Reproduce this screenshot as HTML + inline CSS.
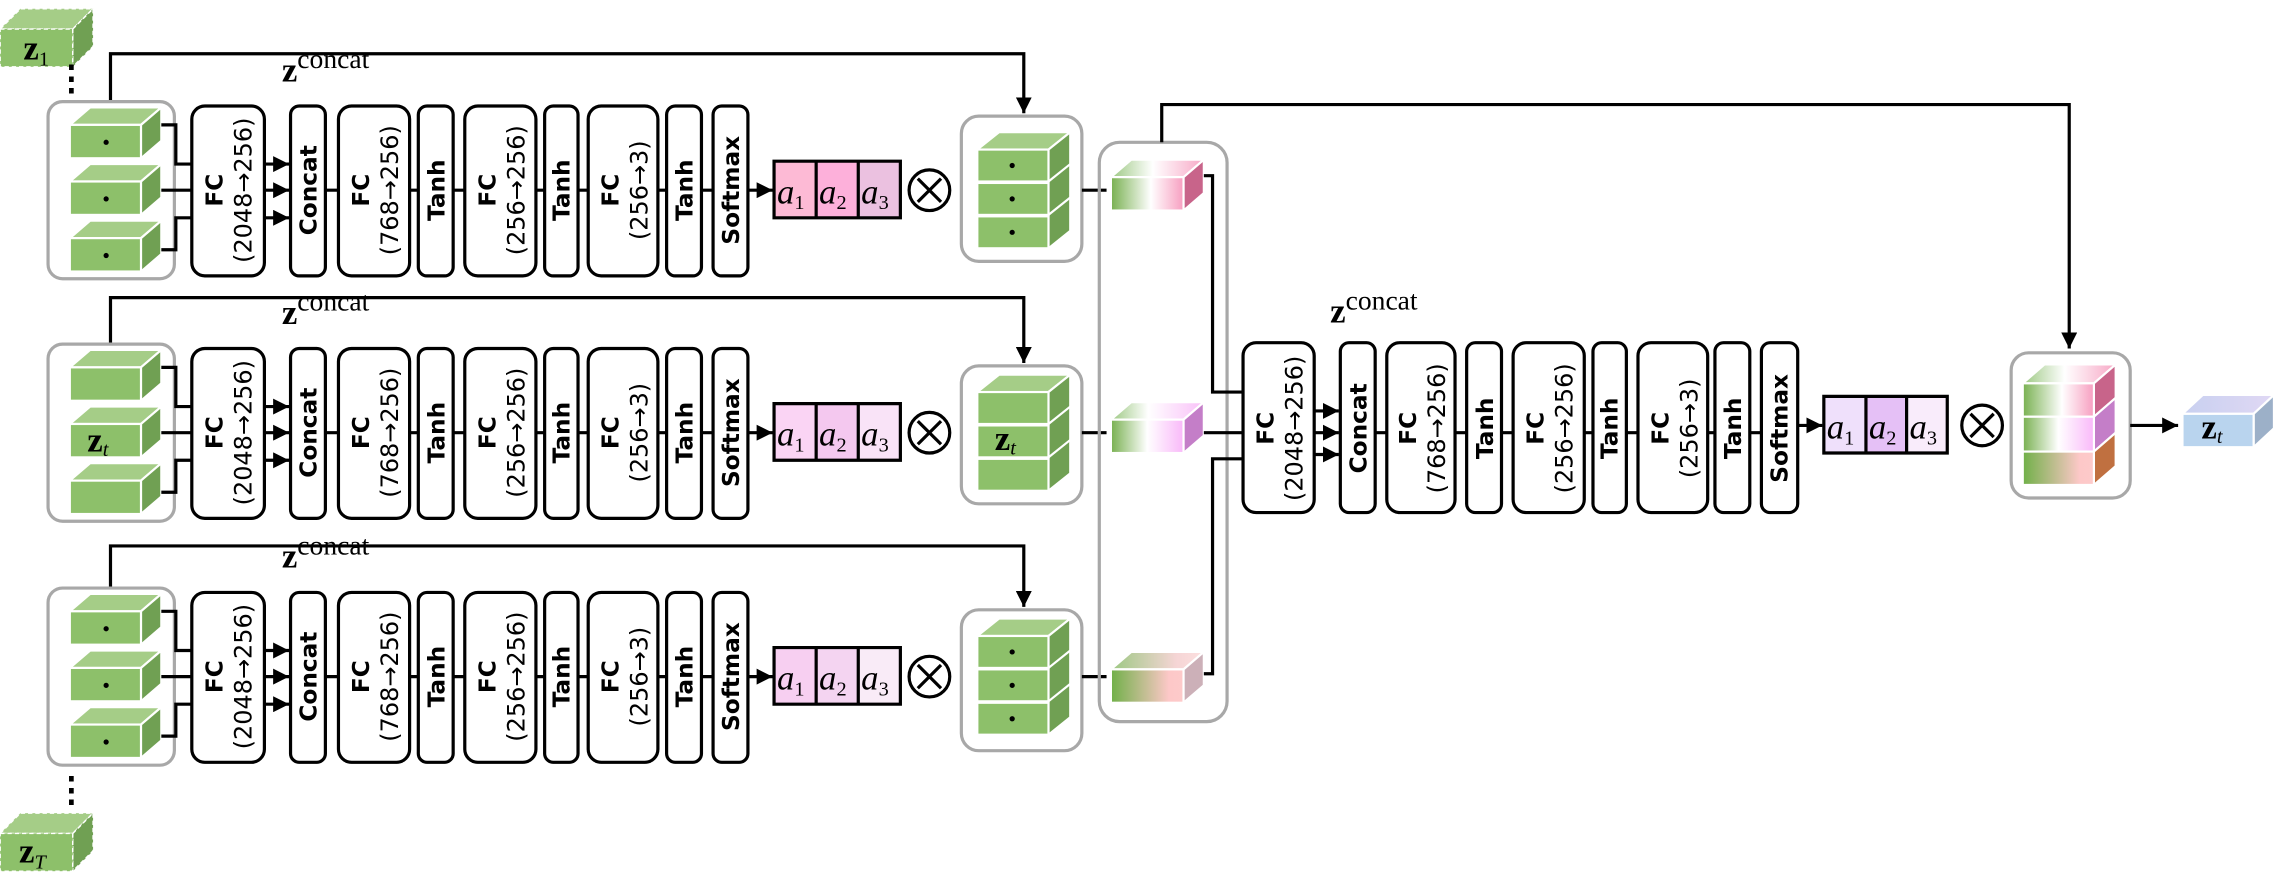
<!DOCTYPE html>
<html><head><meta charset="utf-8"><style>
html,body{margin:0;padding:0;background:#fff;}
svg{display:block;}
.b{fill:#fff;stroke:#000;stroke-width:2.2;}
.l{stroke:#000;stroke-width:2.2;fill:none;}
.g{fill:none;stroke:#a8a8a8;stroke-width:2.2;}
.t{font-family:"DejaVu Sans","Liberation Sans",sans-serif;font-weight:bold;font-size:16px;}
.p{font-family:"DejaVu Sans","Liberation Sans",sans-serif;font-size:16.5px;}
.m{font-family:"Liberation Serif",serif;font-style:italic;font-size:24px;}
.s{font-family:"Liberation Serif",serif;font-size:14px;}
.z{font-family:"Liberation Serif",serif;font-weight:bold;font-size:24px;}
.c{font-family:"Liberation Serif",serif;font-size:19px;font-weight:normal;}
.f{fill:#8dc06a;stroke:#fff;stroke-width:1.5;}
.tp{fill:#a5cd87;stroke:#fff;stroke-width:1.5;}
.sd{fill:#70a053;stroke:#fff;stroke-width:1.5;}
</style></head><body>
<svg width="2277" height="877" viewBox="0 0 1568 604" xmlns="http://www.w3.org/2000/svg">
<defs>
<marker id="ar" viewBox="0 0 10 10" refX="10" refY="5" markerWidth="5" markerHeight="5" orient="auto"><path d="M0,0 L10,5 L0,10z" fill="#000"/></marker>
<linearGradient id="gp" x1="0" x2="1"><stop offset="0" stop-color="#78b050"/><stop offset="0.55" stop-color="#fff"/><stop offset="1" stop-color="#f79ec0"/></linearGradient>
<linearGradient id="gpt" x1="0" x2="1"><stop offset="0" stop-color="#9cc882"/><stop offset="0.45" stop-color="#fff"/><stop offset="1" stop-color="#f7a8c6"/></linearGradient>
<linearGradient id="gv" x1="0" x2="1"><stop offset="0" stop-color="#78b050"/><stop offset="0.5" stop-color="#fff"/><stop offset="1" stop-color="#f9b8f9"/></linearGradient>
<linearGradient id="gvt" x1="0" x2="1"><stop offset="0" stop-color="#9cc882"/><stop offset="0.4" stop-color="#fff"/><stop offset="1" stop-color="#f9c0f8"/></linearGradient>
<linearGradient id="gb" x1="0" x2="1"><stop offset="0" stop-color="#70b048"/><stop offset="0.8" stop-color="#fdc8c8"/><stop offset="1" stop-color="#fdcaca"/></linearGradient>
<linearGradient id="gbt" x1="0" x2="1"><stop offset="0" stop-color="#9cc882"/><stop offset="0.7" stop-color="#f5d5d5"/><stop offset="1" stop-color="#fde0e0"/></linearGradient>
<linearGradient id="zt" x1="0" x2="1"><stop offset="0" stop-color="#c8d0f0"/><stop offset="1" stop-color="#e0d8f4"/></linearGradient>
</defs>

<!-- z1 cube -->
<polygon points="0,20 14,6 64,6 50,20" fill="#a5cd87" stroke="#fff" stroke-dasharray="3,2"/>
<polygon points="50,20 64,6 64,32 50,46" fill="#70a053" stroke="#fff" stroke-dasharray="3,2"/>
<rect x="0" y="20" width="50" height="26" fill="#8dc06a" stroke="#fff" stroke-dasharray="3,2"/>
<text x="16" y="41" class="z" font-size="20">z<tspan class="s" font-weight="normal" dy="4">1</tspan></text>
<text x="37" y="62" class="z" font-size="16">⋮</text>
<!-- zT cube -->
<polygon points="0,574 14,560 64,560 50,574" fill="#a5cd87" stroke="#fff" stroke-dasharray="3,2"/>
<polygon points="50,574 64,560 64,586 50,600" fill="#70a053" stroke="#fff" stroke-dasharray="3,2"/>
<rect x="0" y="574" width="50" height="26" fill="#8dc06a" stroke="#fff" stroke-dasharray="3,2"/>
<text x="13" y="594" class="z" font-size="20">z<tspan class="s" font-weight="normal" font-style="italic" dy="4">T</tspan></text>
<text x="37" y="552" class="z" font-size="16">⋮</text>

<!-- ROW 1 -->
<g>
<path class="l" d="M76,70 V37 H705 V78" marker-end="url(#ar)"/>
<text x="194" y="56" class="z">z<tspan class="c" dy="-9">concat</tspan></text>
<rect class="g" x="33" y="70" width="87" height="122" rx="10"/>
<polygon class="tp" points="48,86 62,74 111,74 97,86"/><polygon class="sd" points="97,86 111,74 111,97 97,109"/><rect class="f" x="48" y="86" width="49" height="23"/><circle cx="73" cy="98" r="1.8"/>
<polygon class="tp" points="48,125 62,113 111,113 97,125"/><polygon class="sd" points="97,125 111,113 111,136 97,148"/><rect class="f" x="48" y="125" width="49" height="23"/><circle cx="73" cy="137" r="1.8"/>
<polygon class="tp" points="48,164 62,152 111,152 97,164"/><polygon class="sd" points="97,164 111,152 111,175 97,187"/><rect class="f" x="48" y="164" width="49" height="23"/><circle cx="73" cy="176" r="1.8"/>
<path class="l" d="M111,86 H121 V113 H132 M111,131 H132 M111,172 H121 V150 H132"/>
<path class="l" d="M182,113 H199" marker-end="url(#ar)"/><path class="l" d="M182,131 H199" marker-end="url(#ar)"/><path class="l" d="M182,150 H199" marker-end="url(#ar)"/>
<path class="l" d="M224,131 H233 M282,131 H288 M312,131 H320 M369,131 H375 M398,131 H405 M453,131 H459 M483,131 H491"/>
<path class="l" d="M515,131 H532" marker-end="url(#ar)"/>
<rect class="b" x="132" y="73" width="50" height="117" rx="9"/>
<text class="t" transform="translate(153,131) rotate(-90)" text-anchor="middle">FC</text>
<text class="p" transform="translate(173,131) rotate(-90)" text-anchor="middle">(2048→256)</text>
<rect class="b" x="200" y="73" width="24" height="117" rx="6"/>
<text class="t" transform="translate(218,131) rotate(-90)" text-anchor="middle">Concat</text>
<rect class="b" x="233" y="73" width="49" height="117" rx="9"/>
<text class="t" transform="translate(254,131) rotate(-90)" text-anchor="middle">FC</text>
<text class="p" transform="translate(274,131) rotate(-90)" text-anchor="middle">(768→256)</text>
<rect class="b" x="288" y="73" width="24" height="117" rx="6"/>
<text class="t" transform="translate(306,131) rotate(-90)" text-anchor="middle">Tanh</text>
<rect class="b" x="320" y="73" width="49" height="117" rx="9"/>
<text class="t" transform="translate(341,131) rotate(-90)" text-anchor="middle">FC</text>
<text class="p" transform="translate(361,131) rotate(-90)" text-anchor="middle">(256→256)</text>
<rect class="b" x="375" y="73" width="23" height="117" rx="6"/>
<text class="t" transform="translate(392,131) rotate(-90)" text-anchor="middle">Tanh</text>
<rect class="b" x="405" y="73" width="48" height="117" rx="9"/>
<text class="t" transform="translate(426,131) rotate(-90)" text-anchor="middle">FC</text>
<text class="p" transform="translate(446,131) rotate(-90)" text-anchor="middle">(256→3)</text>
<rect class="b" x="459" y="73" width="24" height="117" rx="6"/>
<text class="t" transform="translate(477,131) rotate(-90)" text-anchor="middle">Tanh</text>
<rect class="b" x="491" y="73" width="24" height="117" rx="6"/>
<text class="t" transform="translate(509,131) rotate(-90)" text-anchor="middle">Softmax</text>
<rect x="533" y="111" width="29" height="39" fill="#fdbad5"/><rect x="562" y="111" width="29" height="39" fill="#fdb0da"/><rect x="591" y="111" width="29" height="39" fill="#ebc1e0"/>
<path class="l" d="M533,111 H620 V150 H533 Z M562,111 V150 M591,111 V150"/>
<text class="m" x="535" y="140">a<tspan class="s" font-style="normal" font-size="16" dy="4">1</tspan></text>
<text class="m" x="564" y="140">a<tspan class="s" font-style="normal" font-size="16" dy="4">2</tspan></text>
<text class="m" x="593" y="140">a<tspan class="s" font-style="normal" font-size="16" dy="4">3</tspan></text>
<circle cx="640" cy="131" r="14" class="l"/><path class="l" d="M632,123 L648,139 M648,123 L632,139" stroke-width="1.8"/>
<rect class="g" x="662" y="80" width="83" height="100" rx="12"/>
<polygon class="tp" points="673,103 688,91 737,91 722,103"/>
<polygon class="sd" points="722,103 737,91 737,159 722,171"/>
<rect class="f" x="673" y="103" width="49" height="22"/><rect class="f" x="673" y="126" width="49" height="22"/><rect class="f" x="673" y="149" width="49" height="22"/>
<path d="M722,125 L737,113 M722,148 L737,136" stroke="#fff" stroke-width="1.5"/>
<circle cx="697" cy="114" r="1.8"/><circle cx="697" cy="137" r="1.8"/><circle cx="697" cy="160" r="1.8"/>
<path class="l" d="M745,131 H762"/>
</g>

<!-- ROW 2 -->
<g transform="translate(0,167)">
<path class="l" d="M76,70 V38 H705 V83" marker-end="url(#ar)"/>
<text x="194" y="56" class="z">z<tspan class="c" dy="-9">concat</tspan></text>
<rect class="g" x="33" y="70" width="87" height="122" rx="10"/>
<polygon class="tp" points="48,86 62,74 111,74 97,86"/><polygon class="sd" points="97,86 111,74 111,97 97,109"/><rect class="f" x="48" y="86" width="49" height="23"/>
<polygon class="tp" points="48,125 62,113 111,113 97,125"/><polygon class="sd" points="97,125 111,113 111,136 97,148"/><rect class="f" x="48" y="125" width="49" height="23"/><text x="60" y="144" class="z" font-size="19">z<tspan class="s" font-weight="normal" font-style="italic" dy="3">t</tspan></text>
<polygon class="tp" points="48,164 62,152 111,152 97,164"/><polygon class="sd" points="97,164 111,152 111,175 97,187"/><rect class="f" x="48" y="164" width="49" height="23"/>
<path class="l" d="M111,86 H121 V113 H132 M111,131 H132 M111,172 H121 V150 H132"/>
<path class="l" d="M182,113 H199" marker-end="url(#ar)"/><path class="l" d="M182,131 H199" marker-end="url(#ar)"/><path class="l" d="M182,150 H199" marker-end="url(#ar)"/>
<path class="l" d="M224,131 H233 M282,131 H288 M312,131 H320 M369,131 H375 M398,131 H405 M453,131 H459 M483,131 H491"/>
<path class="l" d="M515,131 H532" marker-end="url(#ar)"/>
<rect class="b" x="132" y="73" width="50" height="117" rx="9"/>
<text class="t" transform="translate(153,131) rotate(-90)" text-anchor="middle">FC</text>
<text class="p" transform="translate(173,131) rotate(-90)" text-anchor="middle">(2048→256)</text>
<rect class="b" x="200" y="73" width="24" height="117" rx="6"/>
<text class="t" transform="translate(218,131) rotate(-90)" text-anchor="middle">Concat</text>
<rect class="b" x="233" y="73" width="49" height="117" rx="9"/>
<text class="t" transform="translate(254,131) rotate(-90)" text-anchor="middle">FC</text>
<text class="p" transform="translate(274,131) rotate(-90)" text-anchor="middle">(768→256)</text>
<rect class="b" x="288" y="73" width="24" height="117" rx="6"/>
<text class="t" transform="translate(306,131) rotate(-90)" text-anchor="middle">Tanh</text>
<rect class="b" x="320" y="73" width="49" height="117" rx="9"/>
<text class="t" transform="translate(341,131) rotate(-90)" text-anchor="middle">FC</text>
<text class="p" transform="translate(361,131) rotate(-90)" text-anchor="middle">(256→256)</text>
<rect class="b" x="375" y="73" width="23" height="117" rx="6"/>
<text class="t" transform="translate(392,131) rotate(-90)" text-anchor="middle">Tanh</text>
<rect class="b" x="405" y="73" width="48" height="117" rx="9"/>
<text class="t" transform="translate(426,131) rotate(-90)" text-anchor="middle">FC</text>
<text class="p" transform="translate(446,131) rotate(-90)" text-anchor="middle">(256→3)</text>
<rect class="b" x="459" y="73" width="24" height="117" rx="6"/>
<text class="t" transform="translate(477,131) rotate(-90)" text-anchor="middle">Tanh</text>
<rect class="b" x="491" y="73" width="24" height="117" rx="6"/>
<text class="t" transform="translate(509,131) rotate(-90)" text-anchor="middle">Softmax</text>
<rect x="533" y="111" width="29" height="39" fill="#fad4f4"/><rect x="562" y="111" width="29" height="39" fill="#f4c8ef"/><rect x="591" y="111" width="29" height="39" fill="#f9e3f7"/>
<path class="l" d="M533,111 H620 V150 H533 Z M562,111 V150 M591,111 V150"/>
<text class="m" x="535" y="140">a<tspan class="s" font-style="normal" font-size="16" dy="4">1</tspan></text>
<text class="m" x="564" y="140">a<tspan class="s" font-style="normal" font-size="16" dy="4">2</tspan></text>
<text class="m" x="593" y="140">a<tspan class="s" font-style="normal" font-size="16" dy="4">3</tspan></text>
<circle cx="640" cy="131" r="14" class="l"/><path class="l" d="M632,123 L648,139 M648,123 L632,139" stroke-width="1.8"/>
<rect class="g" x="662" y="85" width="83" height="95" rx="12"/>
<polygon class="tp" points="673,103 688,91 737,91 722,103"/>
<polygon class="sd" points="722,103 737,91 737,159 722,171"/>
<rect class="f" x="673" y="103" width="49" height="22"/><rect class="f" x="673" y="126" width="49" height="22"/><rect class="f" x="673" y="149" width="49" height="22"/>
<path d="M722,125 L737,113 M722,148 L737,136" stroke="#fff" stroke-width="1.5"/>
<text x="685" y="143" class="z" font-size="19">z<tspan class="s" font-weight="normal" font-style="italic" dy="3">t</tspan></text>
<path class="l" d="M745,131 H762"/>
</g>

<!-- ROW 3 -->
<g transform="translate(0,335)">
<path class="l" d="M76,70 V41 H705 V83" marker-end="url(#ar)"/>
<text x="194" y="56" class="z">z<tspan class="c" dy="-9">concat</tspan></text>
<rect class="g" x="33" y="70" width="87" height="122" rx="10"/>
<polygon class="tp" points="48,86 62,74 111,74 97,86"/><polygon class="sd" points="97,86 111,74 111,97 97,109"/><rect class="f" x="48" y="86" width="49" height="23"/><circle cx="73" cy="98" r="1.8"/>
<polygon class="tp" points="48,125 62,113 111,113 97,125"/><polygon class="sd" points="97,125 111,113 111,136 97,148"/><rect class="f" x="48" y="125" width="49" height="23"/><circle cx="73" cy="137" r="1.8"/>
<polygon class="tp" points="48,164 62,152 111,152 97,164"/><polygon class="sd" points="97,164 111,152 111,175 97,187"/><rect class="f" x="48" y="164" width="49" height="23"/><circle cx="73" cy="176" r="1.8"/>
<path class="l" d="M111,86 H121 V113 H132 M111,131 H132 M111,172 H121 V150 H132"/>
<path class="l" d="M182,113 H199" marker-end="url(#ar)"/><path class="l" d="M182,131 H199" marker-end="url(#ar)"/><path class="l" d="M182,150 H199" marker-end="url(#ar)"/>
<path class="l" d="M224,131 H233 M282,131 H288 M312,131 H320 M369,131 H375 M398,131 H405 M453,131 H459 M483,131 H491"/>
<path class="l" d="M515,131 H532" marker-end="url(#ar)"/>
<rect class="b" x="132" y="73" width="50" height="117" rx="9"/>
<text class="t" transform="translate(153,131) rotate(-90)" text-anchor="middle">FC</text>
<text class="p" transform="translate(173,131) rotate(-90)" text-anchor="middle">(2048→256)</text>
<rect class="b" x="200" y="73" width="24" height="117" rx="6"/>
<text class="t" transform="translate(218,131) rotate(-90)" text-anchor="middle">Concat</text>
<rect class="b" x="233" y="73" width="49" height="117" rx="9"/>
<text class="t" transform="translate(254,131) rotate(-90)" text-anchor="middle">FC</text>
<text class="p" transform="translate(274,131) rotate(-90)" text-anchor="middle">(768→256)</text>
<rect class="b" x="288" y="73" width="24" height="117" rx="6"/>
<text class="t" transform="translate(306,131) rotate(-90)" text-anchor="middle">Tanh</text>
<rect class="b" x="320" y="73" width="49" height="117" rx="9"/>
<text class="t" transform="translate(341,131) rotate(-90)" text-anchor="middle">FC</text>
<text class="p" transform="translate(361,131) rotate(-90)" text-anchor="middle">(256→256)</text>
<rect class="b" x="375" y="73" width="23" height="117" rx="6"/>
<text class="t" transform="translate(392,131) rotate(-90)" text-anchor="middle">Tanh</text>
<rect class="b" x="405" y="73" width="48" height="117" rx="9"/>
<text class="t" transform="translate(426,131) rotate(-90)" text-anchor="middle">FC</text>
<text class="p" transform="translate(446,131) rotate(-90)" text-anchor="middle">(256→3)</text>
<rect class="b" x="459" y="73" width="24" height="117" rx="6"/>
<text class="t" transform="translate(477,131) rotate(-90)" text-anchor="middle">Tanh</text>
<rect class="b" x="491" y="73" width="24" height="117" rx="6"/>
<text class="t" transform="translate(509,131) rotate(-90)" text-anchor="middle">Softmax</text>
<rect x="533" y="111" width="29" height="39" fill="#f7cff1"/><rect x="562" y="111" width="29" height="39" fill="#f4d4f1"/><rect x="591" y="111" width="29" height="39" fill="#f9ebf7"/>
<path class="l" d="M533,111 H620 V150 H533 Z M562,111 V150 M591,111 V150"/>
<text class="m" x="535" y="140">a<tspan class="s" font-style="normal" font-size="16" dy="4">1</tspan></text>
<text class="m" x="564" y="140">a<tspan class="s" font-style="normal" font-size="16" dy="4">2</tspan></text>
<text class="m" x="593" y="140">a<tspan class="s" font-style="normal" font-size="16" dy="4">3</tspan></text>
<circle cx="640" cy="131" r="14" class="l"/><path class="l" d="M632,123 L648,139 M648,123 L632,139" stroke-width="1.8"/>
<rect class="g" x="662" y="85" width="83" height="97" rx="12"/>
<polygon class="tp" points="673,103 688,91 737,91 722,103"/>
<polygon class="sd" points="722,103 737,91 737,159 722,171"/>
<rect class="f" x="673" y="103" width="49" height="22"/><rect class="f" x="673" y="126" width="49" height="22"/><rect class="f" x="673" y="149" width="49" height="22"/>
<path d="M722,125 L737,113 M722,148 L737,136" stroke="#fff" stroke-width="1.5"/>
<circle cx="697" cy="114" r="1.8"/><circle cx="697" cy="137" r="1.8"/><circle cx="697" cy="160" r="1.8"/>
<path class="l" d="M745,131 H762"/>
</g>

<!-- middle big gray box with gradient cubes -->
<rect class="g" x="757" y="98" width="88" height="399" rx="14"/>
<path class="l" d="M800,98 V72 H1425 V240" marker-end="url(#ar)"/>
<polygon points="765,122 779,110 829,110 815,122" fill="url(#gpt)" stroke="#fff" stroke-width="1.5"/>
<polygon points="815,122 829,110 829,133 815,145" fill="#c8648a" stroke="#fff" stroke-width="1.5"/>
<rect x="765" y="122" width="50" height="23" fill="url(#gp)" stroke="#fff" stroke-width="1.5"/>
<polygon points="765,289 779,277 829,277 815,289" fill="url(#gvt)" stroke="#fff" stroke-width="1.5"/>
<polygon points="815,289 829,277 829,300 815,312" fill="#c47ec8" stroke="#fff" stroke-width="1.5"/>
<rect x="765" y="289" width="50" height="23" fill="url(#gv)" stroke="#fff" stroke-width="1.5"/>
<polygon points="765,461 779,449 829,449 815,461" fill="url(#gbt)" stroke="#fff" stroke-width="1.5"/>
<polygon points="815,461 829,449 829,472 815,484" fill="#ccb0b8" stroke="#fff" stroke-width="1.5"/>
<rect x="765" y="461" width="50" height="23" fill="url(#gb)" stroke="#fff" stroke-width="1.5"/>
<path class="l" d="M829,121 H835 V270 H856 M829,298 H856 M829,464 H835 V316 H856"/>

<!-- right network -->
<text x="916" y="222" class="z">z<tspan class="c" dy="-9">concat</tspan></text>
<path class="l" d="M905,283 H922" marker-end="url(#ar)"/><path class="l" d="M905,298 H922" marker-end="url(#ar)"/><path class="l" d="M905,313 H922" marker-end="url(#ar)"/>
<path class="l" d="M947,298 H955 M1002,298 H1010 M1034,298 H1042 M1091,298 H1097 M1120,298 H1128 M1176,298 H1181 M1205,298 H1213"/>
<path class="l" d="M1238,293 H1255" marker-end="url(#ar)"/>
<rect class="b" x="856" y="236" width="49" height="117" rx="9"/>
<text class="t" transform="translate(877,295) rotate(-90)" text-anchor="middle">FC</text>
<text class="p" transform="translate(897,295) rotate(-90)" text-anchor="middle">(2048→256)</text>
<rect class="b" x="923" y="236" width="24" height="117" rx="6"/>
<text class="t" transform="translate(941,295) rotate(-90)" text-anchor="middle">Concat</text>
<rect class="b" x="955" y="236" width="47" height="117" rx="9"/>
<text class="t" transform="translate(975,295) rotate(-90)" text-anchor="middle">FC</text>
<text class="p" transform="translate(995,295) rotate(-90)" text-anchor="middle">(768→256)</text>
<rect class="b" x="1010" y="236" width="24" height="117" rx="6"/>
<text class="t" transform="translate(1028,295) rotate(-90)" text-anchor="middle">Tanh</text>
<rect class="b" x="1042" y="236" width="49" height="117" rx="9"/>
<text class="t" transform="translate(1063,295) rotate(-90)" text-anchor="middle">FC</text>
<text class="p" transform="translate(1083,295) rotate(-90)" text-anchor="middle">(256→256)</text>
<rect class="b" x="1097" y="236" width="23" height="117" rx="6"/>
<text class="t" transform="translate(1114,295) rotate(-90)" text-anchor="middle">Tanh</text>
<rect class="b" x="1128" y="236" width="48" height="117" rx="9"/>
<text class="t" transform="translate(1149,295) rotate(-90)" text-anchor="middle">FC</text>
<text class="p" transform="translate(1169,295) rotate(-90)" text-anchor="middle">(256→3)</text>
<rect class="b" x="1181" y="236" width="24" height="117" rx="6"/>
<text class="t" transform="translate(1199,295) rotate(-90)" text-anchor="middle">Tanh</text>
<rect class="b" x="1213" y="236" width="25" height="117" rx="6"/>
<text class="t" transform="translate(1231,295) rotate(-90)" text-anchor="middle">Softmax</text>
<rect x="1256" y="273" width="29" height="39" fill="#efe0fb"/><rect x="1285" y="273" width="28" height="39" fill="#e5c0f6"/><rect x="1313" y="273" width="28" height="39" fill="#f9ecfb"/>
<path class="l" d="M1256,273 H1341 V312 H1256 Z M1285,273 V312 M1313,273 V312"/>
<text class="m" x="1258" y="302">a<tspan class="s" font-style="normal" font-size="16" dy="4">1</tspan></text>
<text class="m" x="1287" y="302">a<tspan class="s" font-style="normal" font-size="16" dy="4">2</tspan></text>
<text class="m" x="1315" y="302">a<tspan class="s" font-style="normal" font-size="16" dy="4">3</tspan></text>
<circle cx="1365" cy="293" r="14" class="l"/><path class="l" d="M1357,285 L1373,301 M1373,285 L1357,301" stroke-width="1.8"/>

<!-- final stack -->
<rect class="g" x="1385" y="243" width="82" height="100" rx="12"/>
<polygon points="1393,264 1408,251 1457,251 1442,264" fill="url(#gpt)" stroke="#fff" stroke-width="1.5"/>
<polygon points="1442,264 1457,251 1457,274 1442,287" fill="#c8648a" stroke="#fff" stroke-width="1.5"/>
<polygon points="1442,287 1457,274 1457,298 1442,311" fill="#c47ec8" stroke="#fff" stroke-width="1.5"/>
<polygon points="1442,311 1457,298 1457,321 1442,334" fill="#c07040" stroke="#fff" stroke-width="1.5"/>
<rect x="1393" y="264" width="49" height="23" fill="url(#gp)" stroke="#fff" stroke-width="1.5"/>
<rect x="1393" y="287" width="49" height="24" fill="url(#gv)" stroke="#fff" stroke-width="1.5"/>
<rect x="1393" y="311" width="49" height="23" fill="url(#gb)" stroke="#fff" stroke-width="1.5"/>
<path class="l" d="M1467,293 H1500" marker-end="url(#ar)"/>
<polygon points="1503,285 1517,272 1566,272 1552,285" fill="url(#zt)" stroke="#fff" stroke-width="1.5"/>
<polygon points="1552,285 1566,272 1566,295 1552,308" fill="#9cb0c8" stroke="#fff" stroke-width="1.5"/>
<rect x="1503" y="285" width="49" height="23" fill="#b9d4ee" stroke="#fff" stroke-width="1.5"/>
<text x="1516" y="302" class="z" font-size="19">z<tspan class="s" font-weight="normal" font-style="italic" dy="3">t</tspan></text>
</svg>
</body></html>
